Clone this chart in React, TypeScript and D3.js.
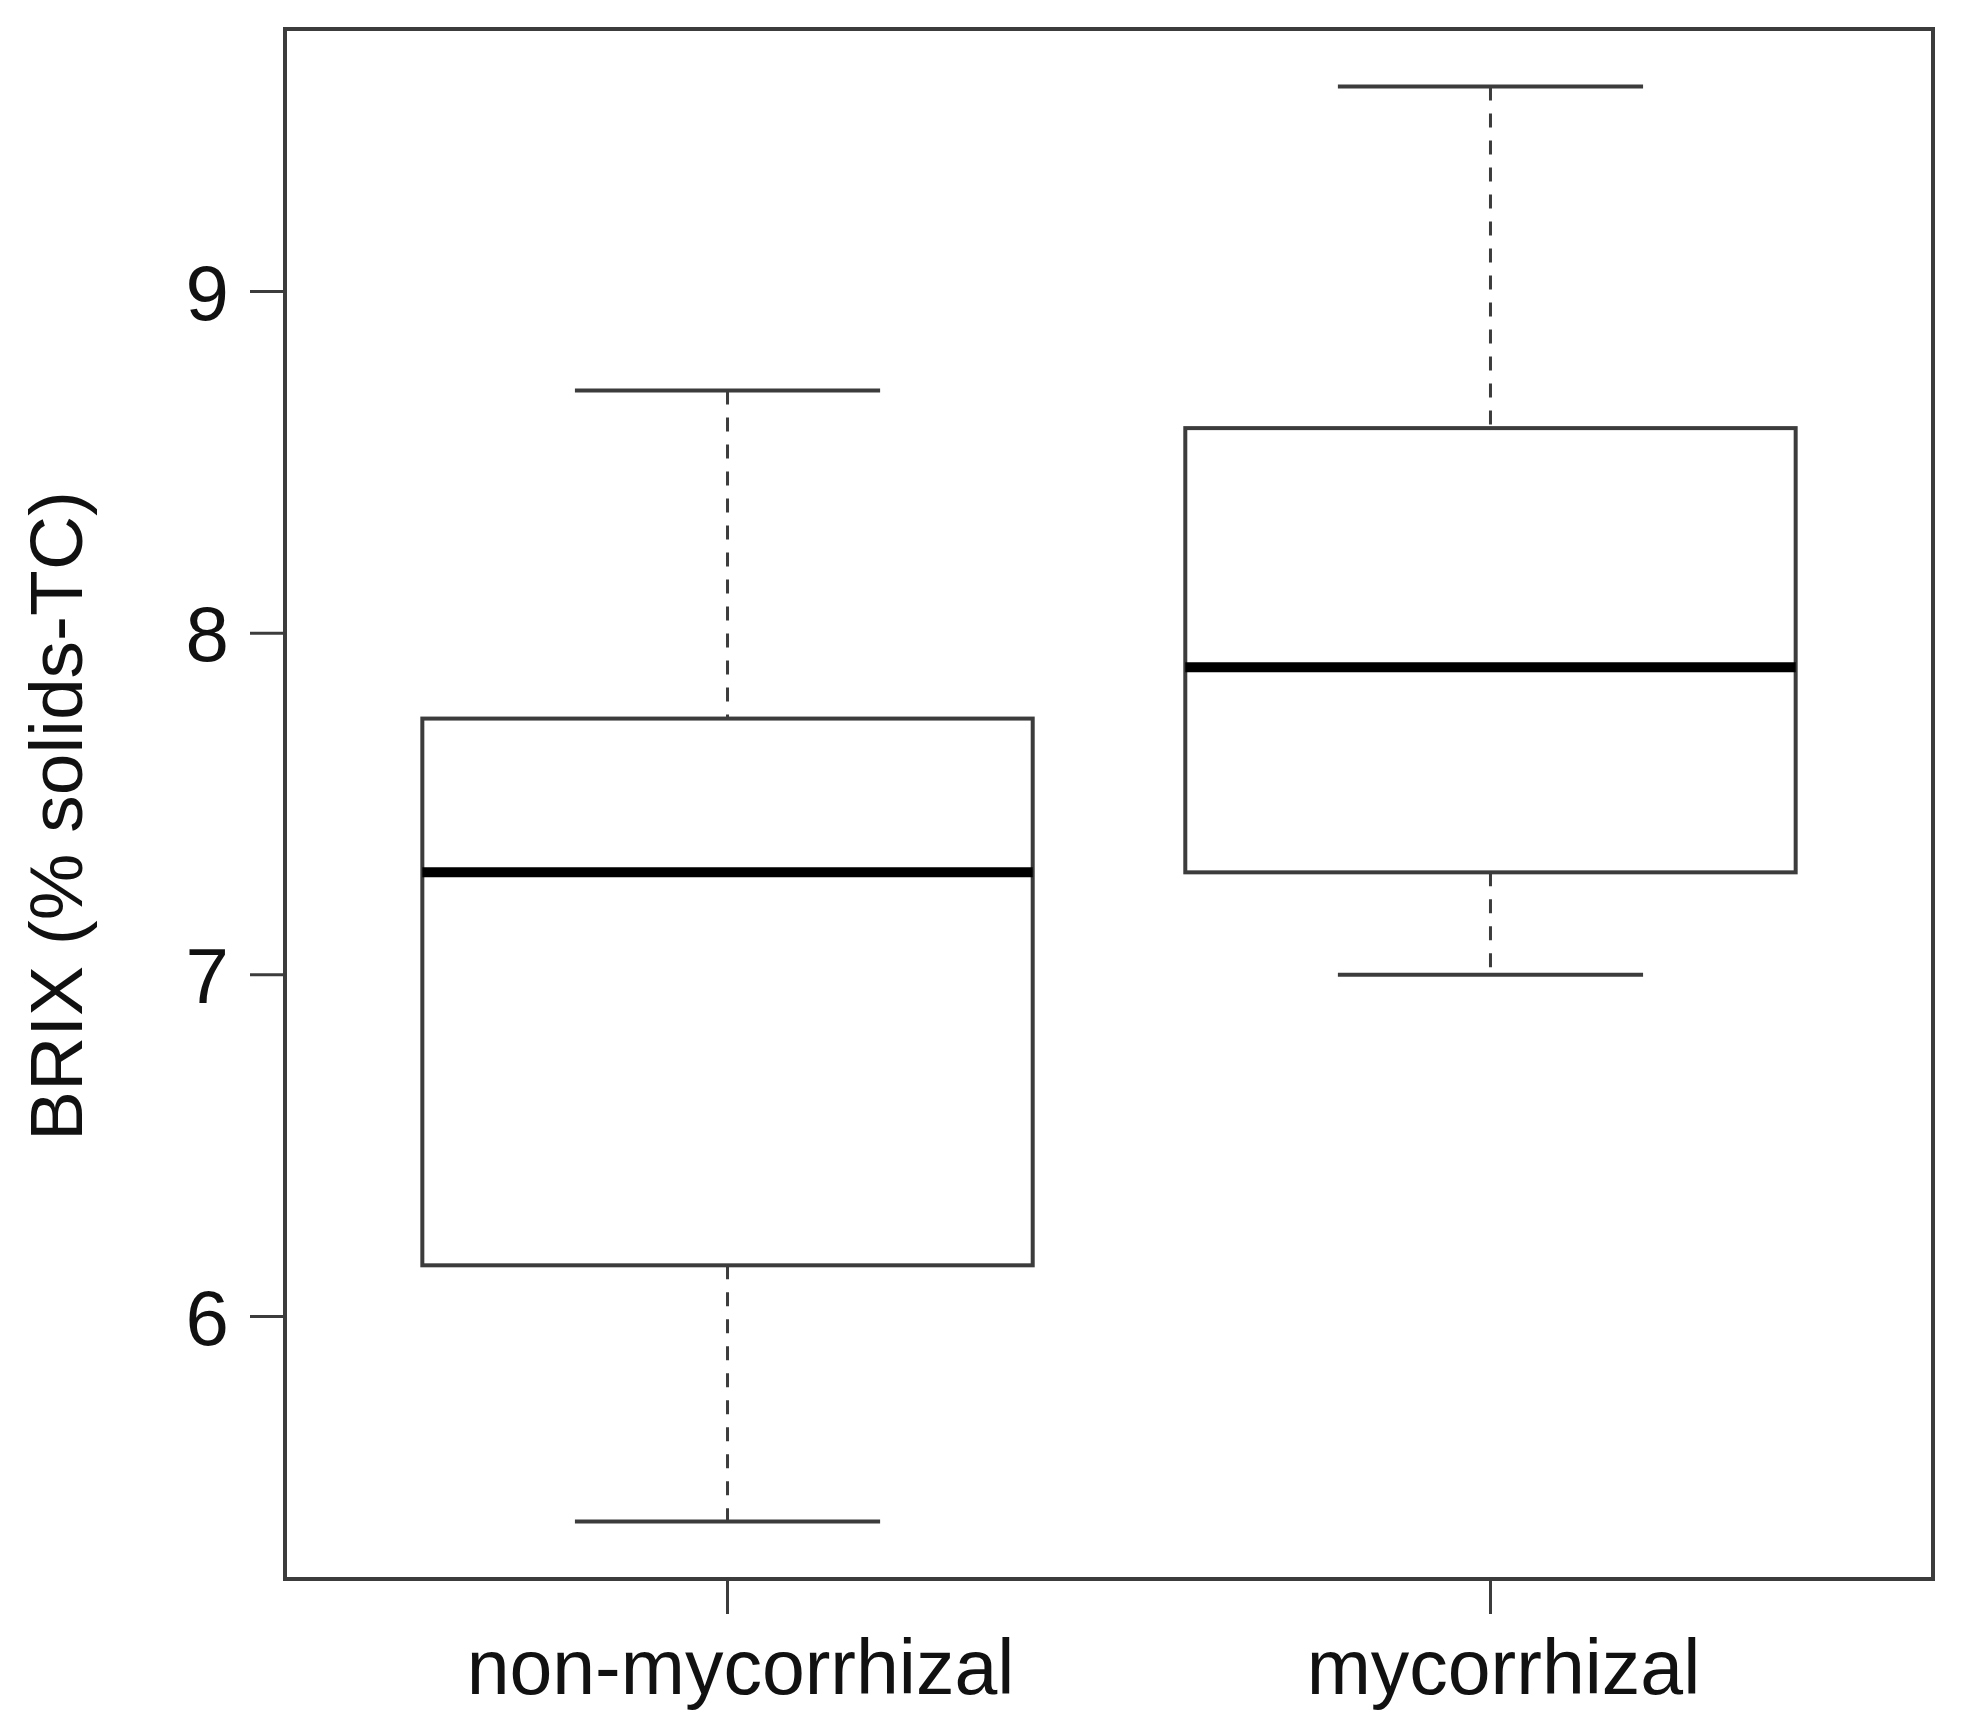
import React, { useEffect } from "react";
import * as d3 from "d3";

const categories = ["non-mycorrhizal", "mycorrhizal"];
const lowerWhisker = [5.4, 7.0];
const q1 = [6.15, 7.3];
const median = [7.3, 7.9];
const q3 = [7.75, 8.6];
const upperWhisker = [8.71, 9.6];
const yTicks = [6, 7, 8, 9];
const yLabel = "BRIX (% solids-TC)";

const W = 1966;
const H = 1731;
const frame = { left: 285, right: 1933, top: 29, bottom: 1579 };

export default function App() {
  useEffect(() => {
    document.body.style.margin = "0";
  }, []);

  const x = d3.scaleLinear().domain([0.42, 2.58]).range([frame.left, frame.right]);
  const y = d3.scaleLinear().domain([5.232, 9.768]).range([frame.bottom, frame.top]);
  const boxW = x(1.4) - x(1.0);
  const capW = x(1.2) - x(1.0);
  const lineColor = "#3c3c3c";
  const font = "'Liberation Sans', Arial, Helvetica, sans-serif";

  return (
    <svg width={W} height={H} style={{ display: "block", background: "#fff" }} fontFamily={font}>
      <rect x={0} y={0} width={W} height={H} fill="#fff" />
      {categories.map((c, i) => {
        const cx = x(i + 1);
        return (
          <g key={c}>
            <line x1={cx} x2={cx} y1={y(upperWhisker[i])} y2={y(q3[i])} stroke={lineColor} strokeWidth={3} strokeDasharray="14 13" />
            <line x1={cx} x2={cx} y1={y(q1[i])} y2={y(lowerWhisker[i])} stroke={lineColor} strokeWidth={3} strokeDasharray="14 13" />
            <line x1={cx - capW} x2={cx + capW} y1={y(upperWhisker[i])} y2={y(upperWhisker[i])} stroke={lineColor} strokeWidth={4} />
            <line x1={cx - capW} x2={cx + capW} y1={y(lowerWhisker[i])} y2={y(lowerWhisker[i])} stroke={lineColor} strokeWidth={4} />
            <rect x={cx - boxW} y={y(q3[i])} width={2 * boxW} height={y(q1[i]) - y(q3[i])} fill="#fff" stroke={lineColor} strokeWidth={4} />
            <line x1={cx - boxW} x2={cx + boxW} y1={y(median[i])} y2={y(median[i])} stroke="#000" strokeWidth={10} />
          </g>
        );
      })}
      <rect x={frame.left} y={frame.top} width={frame.right - frame.left} height={frame.bottom - frame.top} fill="none" stroke={lineColor} strokeWidth={4} />
      {yTicks.map((t) => (
        <g key={t}>
          <line x1={frame.left - 35} x2={frame.left} y1={y(t)} y2={y(t)} stroke={lineColor} strokeWidth={3} />
          <text x={frame.left - 56} y={y(t)} dy="0.36em" textAnchor="end" fontSize={78} fill="#111">
            {t}
          </text>
        </g>
      ))}
      {categories.map((c, i) => (
        <g key={"x" + c}>
          <line x1={x(i + 1)} x2={x(i + 1)} y1={frame.bottom} y2={frame.bottom + 35} stroke={lineColor} strokeWidth={3} />
          <text x={x(i + 1) + 13} y={1694} textAnchor="middle" fontSize={77} fill="#111">
            {c}
          </text>
        </g>
      ))}
      <text
        transform={`translate(82, ${(y(9.768) + y(5.232)) / 2 + 12}) rotate(-90)`}
        textAnchor="middle"
        fontSize={75}
        fill="#111"
      >
        {yLabel}
      </text>
    </svg>
  );
}
